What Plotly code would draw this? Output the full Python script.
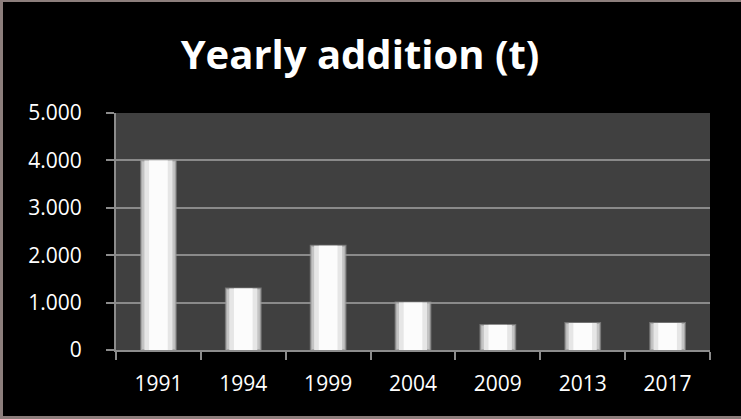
import plotly.graph_objects as go

years = ["1991", "1994", "1999", "2004", "2009", "2013", "2017"]
additions = [4000, 1300, 2200, 1000, 530, 570, 570]
y_ticks = [0, 1000, 2000, 3000, 4000, 5000]

W, H = 741, 419
ML, MR, MT, MB = 116, 31, 113, 69
pw, ph = W - ML - MR, H - MT - MB

fig = go.Figure()
fig.add_trace(go.Bar(x=years, y=additions, width=0.41,
                     marker=dict(color="#c4c4c4", line=dict(color="rgba(150,150,150,0.6)", width=2)),
                     showlegend=False, hoverinfo="skip"))
fig.add_trace(go.Bar(x=years, y=additions, width=0.33,
                     marker=dict(color="#e6e6e6", line=dict(width=0)),
                     showlegend=False, hoverinfo="skip"))
fig.add_trace(go.Bar(x=years, y=additions, width=0.22,
                     marker=dict(color="#fcfcfc", line=dict(width=0)),
                     showlegend=False, hovertemplate="%{x}: %{y}<extra></extra>"))

# black slide inside a thin photo-like edge
fig.add_shape(type="rect", xref="paper", yref="paper",
              x0=(3 - ML) / pw, x1=(W - ML) / pw,
              y0=(H - 416 - MB) / ph, y1=(H - 2 - MB) / ph,
              fillcolor="black", line=dict(width=0), layer="below")
# plot area background
fig.add_shape(type="rect", xref="paper", yref="paper", x0=0, x1=1, y0=0, y1=1,
              fillcolor="#404040", line=dict(width=0), layer="below")

fig.update_layout(
    width=W, height=H,
    margin=dict(l=ML, r=MR, t=MT, b=MB),
    paper_bgcolor="#8c7e7c",
    plot_bgcolor="#404040",
    barmode="overlay",
    separators=",.",
    font=dict(family="Open Sans, Lato, sans-serif", color="white", size=18),
    title=dict(text="<b>Yearly addition (t)</b>", x=360 / W, xanchor="center",
               y=1 - 55 / H, yanchor="middle",
               font=dict(family="Open Sans, Lato, sans-serif", size=40, color="white")),
    xaxis=dict(type="category", showgrid=False, showline=True, linecolor="#8c8c8c", linewidth=2,
               ticks="outside", tickson="boundaries", ticklen=8, tickwidth=2, tickcolor="#8c8c8c",
               ticklabelstandoff=14, tickfont=dict(size=21, color="white")),
    yaxis=dict(range=[0, 5000], tickvals=y_ticks, tickformat=",d", showgrid=True,
               gridcolor="#8a8a8a", gridwidth=2, zeroline=False,
               showline=True, linecolor="#8c8c8c", linewidth=2,
               ticks="outside", ticklen=8, tickwidth=2, tickcolor="#8c8c8c",
               ticklabelstandoff=20, tickfont=dict(size=21, color="white")),
)

fig.write_html("out.html")
